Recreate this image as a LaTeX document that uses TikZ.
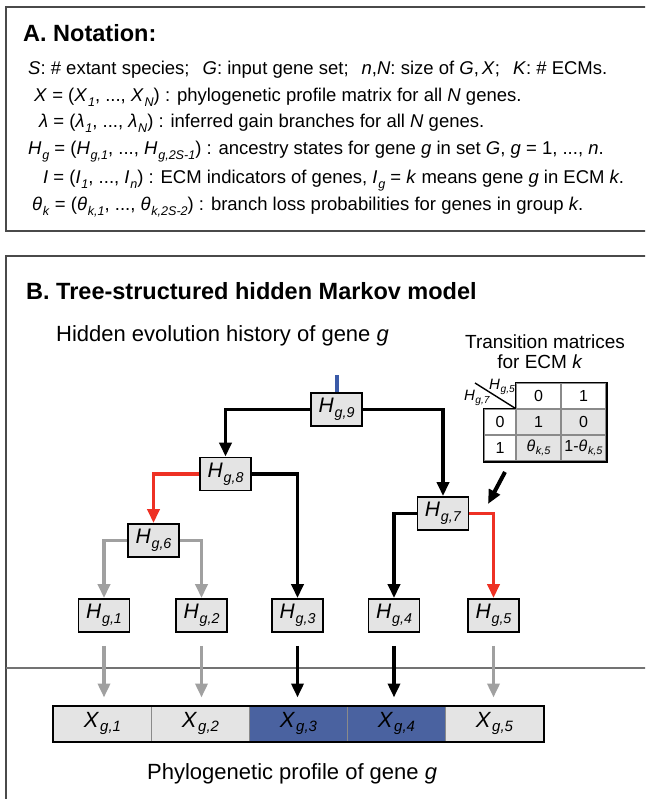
\documentclass[tikz,border=0pt]{standalone}
\usepackage{fontspec}
\usepackage{graphicx}
\setmainfont{Liberation Sans}
\usetikzlibrary{arrows.meta}
\definecolor{boxgray}{HTML}{E4E4E4}
\definecolor{edgered}{HTML}{EE3124}
\definecolor{edgegray}{HTML}{A0A0A0}
\definecolor{stubblue}{HTML}{3B5BA8}
\definecolor{cellblue}{HTML}{4A62A0}
\definecolor{framegray}{HTML}{4A4A4A}
\definecolor{gridgray}{HTML}{8A8A8A}
\newcommand\vx[2]{\textit{#1}\kern0.04em\raisebox{-0.42ex}{\scalebox{0.68}{\textit{#2}}}}
\newcommand\fs[1]{\fontsize{#1}{#1}\selectfont}
\begin{document}
\begin{tikzpicture}[x=1pt,y=-1pt,
  frame/.style={draw=framegray,line width=2.5pt},
  hbox/.style={draw=black,line width=1.8pt,fill=boxgray,minimum width=51pt,minimum height=33pt,inner sep=0pt,font=\fs{21}},
  tiptri/.style={-{Triangle[length=14pt,width=12pt]}},
  tedge/.style={tiptri,line width=3.5pt,draw=black},
  redge/.style={tiptri,line width=3.5pt,draw=edgered},
  gedge/.style={tiptri,line width=3.5pt,draw=edgegray},
  xcell/.style={draw=gridgray,line width=1pt,minimum width=98pt,minimum height=35pt,inner sep=0pt,font=\fs{22}},
  mcell/.style={draw=gridgray,line width=1.2pt,minimum height=26pt,inner sep=0pt,font=\fs{16}},
  ntxt/.style={anchor=base west,inner sep=0pt,font=\fs{18.5}},
  ttl/.style={anchor=base west,inner sep=0pt,font=\fs{23.5}\bfseries},
  captxt/.style={inner sep=0pt,font=\fs{22}},
]
\clip (0,0) rectangle (645,799);
\fill[white] (0,0) rectangle (645,799);
% frames
\draw[frame] (6,7) rectangle (700,231);
\draw[frame] (6,256) rectangle (700,900);
\draw[draw=gray!90!black,line width=1.5pt] (6,668) -- (700,668);

% Section A
\node[ttl] (ta) at (23,42) {A. Notation:};
\node[ntxt] (l1) at (28,75) {\textit{S}: \# extant species;\hspace{13pt}\textit{G}: input gene set;\hspace{13pt}\textit{n},\textit{N}: size of \textit{G},\,\textit{X};\hspace{13pt}\textit{K}: \# ECMs.};
\node[ntxt] (l2) at (34,102) {\textit{X} = (\vx{X}{1}, ..., \vx{X}{N}) : phylogenetic profile matrix for all \textit{N} genes.};
\node[ntxt] (l3) at (39,128) {\textit{λ} = (\vx{λ}{1}, ..., \vx{λ}{N}) : inferred gain branches for all \textit{N} genes.};
\node[ntxt] (l4) at (28,155) {\vx{H}{g} = (\vx{H}{g,1}, ..., \vx{H}{g,2S-1}) : ancestry states for gene \textit{g} in set \textit{G}, \textit{g} = 1, ..., \textit{n}.};
\node[ntxt] (l5) at (43,184) {\textit{I} = (\vx{I}{1}, ..., \vx{I}{n}) : ECM indicators of genes, \vx{I}{g} = \textit{k} means gene \textit{g} in ECM \textit{k}.};
\node[ntxt] (l6) at (32,211) {\vx{θ}{k} = (\vx{θ}{k,1}, ..., \vx{θ}{k,2S-2}) : branch loss probabilities for genes in group \textit{k}.};

% Section B
\node[ttl] (tb) at (26,299) {B. Tree-structured hidden Markov model};
\node[captxt,anchor=base west] (hid) at (56,341) {Hidden evolution history of gene \textit{g}};
\node[inner sep=0pt,font=\fs{19},anchor=base] (tm1) at (545,348) {Transition matrices};
\node[inner sep=0pt,font=\fs{19},anchor=base] (tm2) at (540,368) {for ECM \textit{k}};

% tree nodes
\node[hbox] (h9) at (336.5,409.5) {\vx{H}{g,9}};
\node[hbox] (h8) at (225.5,474) {\vx{H}{g,8}};
\node[hbox] (h7) at (443,513.5) {\vx{H}{g,7}};
\node[hbox] (h6) at (153.5,540.5) {\vx{H}{g,6}};
\node[hbox] (h1) at (104,615.5) {\vx{H}{g,1}};
\node[hbox] (h2) at (201.5,615.5) {\vx{H}{g,2}};
\node[hbox] (h3) at (297.5,615.5) {\vx{H}{g,3}};
\node[hbox] (h4) at (394,615.5) {\vx{H}{g,4}};
\node[hbox] (h5) at (493.5,615.5) {\vx{H}{g,5}};

\coordinate (root) at (336.5,375);
\draw[draw=stubblue,line width=4pt] (root) -- (h9.north);

\draw[tedge] (h9.west) -| (h8.north);
\draw[tedge] (h9.east) -| (h7.north);
\draw[redge] (h8.west) -| (h6.north);
\draw[tedge] (h8.east) -| (h3.north);
\draw[gedge] (h6.west) -| (h1.north);
\draw[gedge] (h6.east) -| (h2.north);
\draw[tedge] (h7.west) -| (h4.north);
\draw[redge] (h7.east) -| (h5.north);

% profile strip
\node[xcell,fill=boxgray] (x1) at (102.5,723.5) {\vx{X}{g,1}};
\node[xcell,fill=boxgray] (x2) at (200.5,723.5) {\vx{X}{g,2}};
\node[xcell,fill=cellblue] (x3) at (298.5,723.5) {\vx{X}{g,3}};
\node[xcell,fill=cellblue] (x4) at (396.5,723.5) {\vx{X}{g,4}};
\node[xcell,fill=boxgray] (x5) at (494.5,723.5) {\vx{X}{g,5}};
\draw[black,line width=2pt] (x1.north west) rectangle (x5.south east);

\draw[gedge,shorten <=13pt,shorten >=8pt] (h1.south) -- (h1.south |- x1.north);
\draw[gedge,shorten <=13pt,shorten >=8pt] (h2.south) -- (h2.south |- x2.north);
\draw[tedge,shorten <=13pt,shorten >=8pt] (h3.south) -- (h3.south |- x3.north);
\draw[tedge,shorten <=13pt,shorten >=8pt] (h4.south) -- (h4.south |- x4.north);
\draw[gedge,shorten <=13pt,shorten >=8pt] (h5.south) -- (h5.south |- x5.north);

\node[captxt,anchor=base west] (phy) at (147,779) {Phylogenetic profile of gene \textit{g}};

% transition matrix
\node[mcell,minimum width=45pt] (m01) at (538.5,396) {0};
\node[mcell,minimum width=45pt] (m02) at (583.5,396) {1};
\node[mcell,minimum width=32pt] (m10) at (500,422) {0};
\node[mcell,minimum width=45pt,fill=boxgray] (m11) at (538.5,422) {1};
\node[mcell,minimum width=45pt,fill=boxgray] (m12) at (583.5,422) {0};
\node[mcell,minimum width=32pt] (m20) at (500,448) {1};
\node[mcell,minimum width=45pt,fill=boxgray] (m21) at (538.5,448) {\vx{θ}{k,5}};
\node[mcell,minimum width=45pt,fill=boxgray] (m22) at (583.5,448) {1-\vx{θ}{k,5}};
\draw[black,line width=1.8pt] (m01.north west) -- (m02.north east) -- (m22.south east) -- (m20.south west) -- (m10.north west) -- (m11.north west) -- cycle;
\coordinate (dstart) at (475,383);
\draw[black,line width=1.4pt] (dstart) -- (m11.north west);
\node[inner sep=0pt,font=\fs{15}] (lh5) at (502,387) {\vx{H}{g,5}};
\node[inner sep=0pt,font=\fs{15}] (lh7) at (477,398) {\vx{H}{g,7}};

\coordinate (ms) at (505,472);
\coordinate (me) at (488,504);
\draw[tedge,line width=4pt] (ms) -- (me);
\end{tikzpicture}
\end{document}
